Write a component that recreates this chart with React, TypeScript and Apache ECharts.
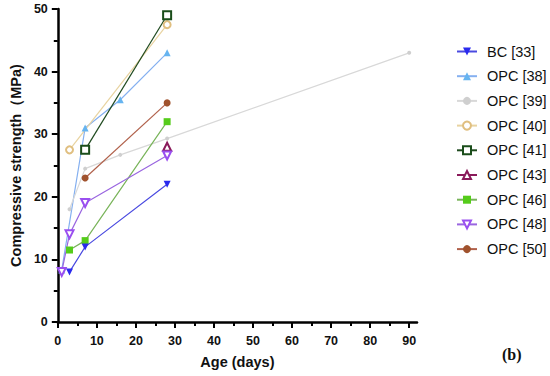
import React, { useEffect, useRef } from "react";
import * as echarts from "echarts";

const seriesNames = ["BC [33]", "OPC [38]", "OPC [39]", "OPC [40]", "OPC [41]", "OPC [43]", "OPC [46]", "OPC [48]", "OPC [50]"];

const bc33Days = [3, 7, 28];
const bc33Values = [8, 12, 22];
const opc38Days = [1, 7, 16, 28];
const opc38Values = [8.3, 31, 35.5, 43];
const opc39Days = [3, 7, 16, 28, 90];
const opc39Values = [18, 24.5, 26.7, 29.3, 43];
const opc40Days = [3, 28];
const opc40Values = [27.5, 47.5];
const opc41Days = [7, 28];
const opc41Values = [27.5, 49];
const opc43Days = [28];
const opc43Values = [28];
const opc46Days = [3, 7, 28];
const opc46Values = [11.5, 13, 32];
const opc48Days = [1, 3, 7, 28];
const opc48Values = [8, 14, 19, 26.6];
const opc50Days = [7, 28];
const opc50Values = [23, 35];

const xMajorTicks = [0, 10, 20, 30, 40, 50, 60, 70, 80, 90];
const xMinorTicks = [5, 15, 25, 35, 45, 55, 65, 75, 85];

const pairs = (xs: number[], ys: number[]) => xs.map((x, i) => [x, ys[i]]);

const FONT = "'Liberation Sans', Arial, sans-serif";

export default function App() {
  const ref = useRef<HTMLDivElement>(null);
  useEffect(() => {
    if (!ref.current) return;
    const chart = echarts.init(ref.current, undefined, { renderer: "svg" });
    const mk = (
      name: string,
      xs: number[],
      ys: number[],
      lineColor: string,
      markColor: string,
      symbol: string,
      size: number,
      rotate = 0
    ) => ({
      name,
      type: "line",
      data: pairs(xs, ys),
      symbol,
      symbolSize: size,
      symbolRotate: rotate,
      lineStyle: { color: lineColor, width: 1.2 },
      itemStyle: { color: markColor, borderColor: markColor, borderWidth: symbol.startsWith("empty") ? 1.6 : 0 },
      emphasis: { disabled: true },
    });
    chart.setOption({
      animation: false,
      grid: { left: 48, top: 9, right: 133, bottom: 54 },
      legend: {
        orient: "vertical",
        left: 451,
        top: 39,
        itemWidth: 20,
        itemHeight: 10,
        itemGap: 9.7,
        textStyle: { fontFamily: FONT, fontSize: 14.5, color: "#111", lineHeight: 14, padding: [0, 0, 0, 5] },
        data: seriesNames,
      },
      xAxis: [
        {
          type: "value",
          min: 0,
          max: 92,
          name: "Age (days)",
          nameLocation: "middle",
          nameGap: 32,
          nameTextStyle: { fontFamily: FONT, fontSize: 14.5, fontWeight: "bold", color: "#111" },
          axisLine: { lineStyle: { color: "#000", width: 2.5 } },
          axisTick: { customValues: xMajorTicks, length: 6, lineStyle: { color: "#000", width: 2 } },
          axisLabel: { customValues: xMajorTicks, margin: 12, fontFamily: FONT, fontSize: 12.5, fontWeight: "bold", color: "#111" },
          splitLine: { show: false },
        },
        {
          type: "value",
          min: 0,
          max: 92,
          position: "bottom",
          axisLine: { show: false },
          axisTick: { customValues: xMinorTicks, length: 4, lineStyle: { color: "#000", width: 2 } },
          axisLabel: { show: false },
          splitLine: { show: false },
        },
      ],
      yAxis: {
        type: "value",
        min: 0,
        max: 50,
        interval: 10,
        name: "Compressive strength（MPa)",
        nameLocation: "middle",
        nameGap: 31,
        nameTextStyle: { fontFamily: FONT, fontSize: 14.5, fontWeight: "bold", color: "#111" },
        axisLine: { show: true, lineStyle: { color: "#000", width: 2.5 } },
        axisTick: { show: true, length: 6, lineStyle: { color: "#000", width: 2 } },
        minorTick: { show: true, splitNumber: 2, length: 4, lineStyle: { color: "#000", width: 2 } },
        axisLabel: { margin: 10, fontFamily: FONT, fontSize: 12.5, fontWeight: "bold", color: "#111" },
        splitLine: { show: false },
      },
      graphic: [
        {
          type: "text",
          left: 502,
          top: 346,
          style: { text: "(b)", font: "bold 16px 'Liberation Serif', 'DejaVu Serif', serif", fill: "#111" },
        },
      ],
      series: [
        mk(seriesNames[1], opc38Days, opc38Values, "#85b0f0", "#66b4f0", "triangle", 7),
        mk(seriesNames[2], opc39Days, opc39Values, "#d8d8d8", "#cfcfcf", "circle", 4),
        mk(seriesNames[3], opc40Days, opc40Values, "#e8d3a0", "#e0bf80", "emptyCircle", 7),
        mk(seriesNames[4], opc41Days, opc41Values, "#1f4a1f", "#1a4d1a", "emptyRect", 8),
        mk(seriesNames[5], opc43Days, opc43Values, "#8a1a5a", "#8a1a5a", "emptyTriangle", 8),
        mk(seriesNames[6], opc46Days, opc46Values, "#79b45a", "#55cc1a", "rect", 7),
        mk(seriesNames[7], opc48Days, opc48Values, "#9a66e0", "#9a4ff0", "emptyTriangle", 8, 180),
        mk(seriesNames[8], opc50Days, opc50Values, "#b0604a", "#a0522d", "circle", 7),
        mk(seriesNames[0], bc33Days, bc33Values, "#4a4ae0", "#2a2aee", "triangle", 7, 180),
      ],
    });
    return () => chart.dispose();
  }, []);
  return <div ref={ref} style={{ position: "fixed", left: 0, top: 0, width: 550, height: 376, background: "#fff" }} />;
}
